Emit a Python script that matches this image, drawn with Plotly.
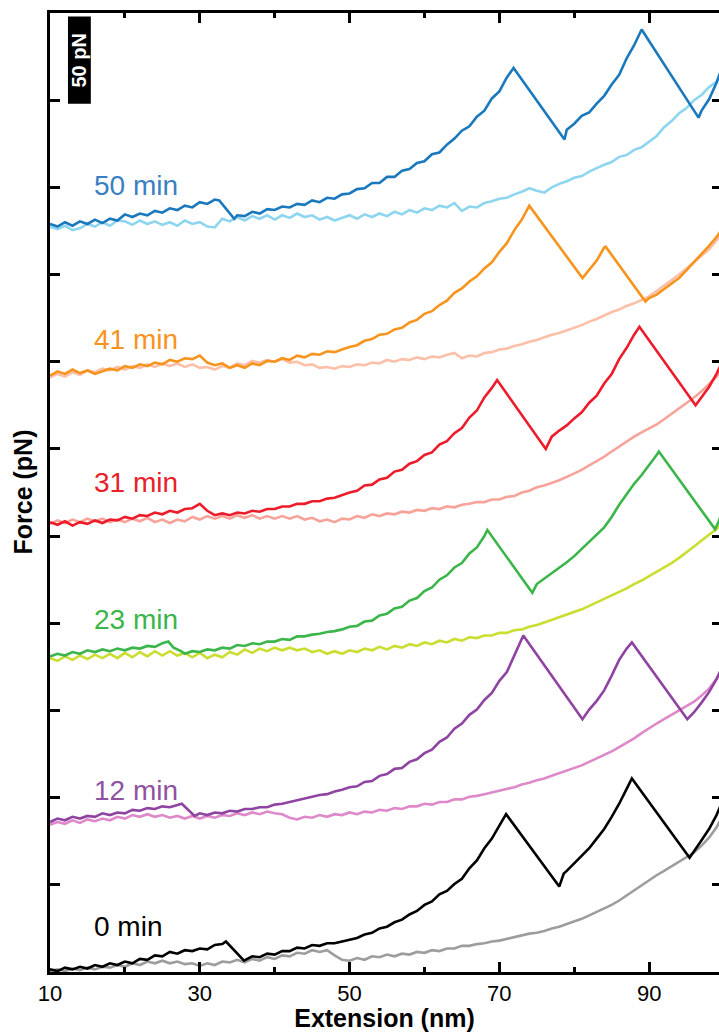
import plotly.graph_objects as go

# ---- data: (extension nm, force pN incl. vertical offset) ----
d50 = [(10, 429), (11, 427.5), (12, 430), (13, 428), (14, 430.5), (15, 429), (16, 431.5), (17, 429.5), (18, 432), (19, 431),
       (20, 434.5), (21, 433), (22, 435), (23, 434), (24, 436.5), (25, 435.5), (26, 438), (27, 437), (28, 439.5), (29, 438.5),
       (30, 441.5), (31, 440.5), (32, 443), (32.6, 442.5), (34.6, 432), (35, 434), (36, 433.5), (37, 436), (38, 435), (39, 437.5),
       (40, 437), (41, 439), (42, 438.5), (43, 440.5), (44, 440), (45, 442.5), (46, 441.5), (47, 444), (48, 443.5), (49, 446),
       (50, 446.5), (51, 449), (52, 449.5), (53, 452.5), (54, 452.5), (55, 456), (56, 456), (57, 459.5), (58, 460.5), (59, 464),
       (60, 465), (61, 469), (62, 470), (63, 474.5), (64, 478), (65, 482.5), (66, 485), (67, 490.5), (68, 494), (69, 501),
       (70, 505), (71, 513), (71.9, 518.5), (78.7, 477.5), (79, 483), (80, 486.5), (81, 491), (82, 493), (83, 498),
       (84, 502.5), (85, 509), (86, 514.5), (87, 524), (88, 531.5), (89, 540.5), (96.6, 490), (97, 494), (98, 500.5), (99, 510),
       (99.5, 516)]
l50 = [(10, 427.5), (11, 426), (12, 428), (13, 425.5), (14, 426.5), (15, 429), (16, 427.5), (17, 430), (18, 428), (19, 431),
       (20, 430.5), (21, 428.5), (22, 431), (23, 429), (24, 430.5), (25, 428.5), (26, 430), (27, 428), (28, 431), (29, 429),
       (30, 430), (31, 427.5), (32, 427), (33, 432), (34, 430.5), (35, 433), (36, 431), (37, 433.5), (38, 432), (39, 434),
       (40, 431.5), (41, 434), (42, 432.5), (43, 435), (44, 433), (45, 434), (46, 431.5), (47, 433), (48, 431), (49, 432.5),
       (50, 434), (51, 432), (52, 434.5), (53, 433), (54, 435), (55, 433.5), (56, 436), (57, 434.5), (58, 437), (59, 435.5),
       (60, 438), (61, 437), (62, 439.5), (63, 438.5), (64, 441), (65, 436.5), (66, 439), (67, 438.5), (68, 441), (69, 442),
       (70, 443.5), (71, 444), (72, 446), (73, 447.5), (74, 449.5), (75, 448), (76, 447), (77, 450), (78, 452), (79, 453.5),
       (80, 455.5), (81, 456.5), (82, 459), (83, 461), (84, 463), (85, 464.5), (86, 467.5), (87, 468.5), (88, 471.5), (89, 473),
       (90, 476.5), (91, 479.5), (92, 484.5), (93, 488), (94, 492.5), (95, 495.5), (96, 500), (97, 503), (98, 507.5), (99, 510.5),
       (99.5, 513.5)]

d41 = [(10, 342), (11, 344.5), (12, 343), (13, 345.5), (14, 343.5), (15, 345), (16, 343), (17, 344.5), (18, 346), (19, 345),
       (20, 347.5), (21, 346.5), (22, 348.5), (23, 347.5), (24, 349.5), (25, 348.5), (26, 351), (27, 350), (28, 352), (29, 351.5),
       (30, 353.5), (31, 349.5), (32, 348), (33, 349), (34, 346.5), (35, 348), (36, 346.5), (37, 349), (38, 348), (39, 350.5),
       (40, 350), (41, 352), (42, 351), (43, 353.5), (44, 352.5), (45, 354.5), (46, 354), (47, 356), (48, 355.5), (49, 357),
       (50, 358.5), (51, 359.5), (52, 362), (53, 363), (54, 365.5), (55, 366), (56, 368.5), (57, 369.5), (58, 372.5), (59, 374),
       (60, 377.5), (61, 379), (62, 382.5), (63, 385), (64, 389.5), (65, 392), (66, 396), (67, 399), (68, 403.5), (69, 407),
       (70, 413), (71, 418), (72, 425.5), (73, 431.5), (74, 439.5), (81.1, 398), (82, 402.5), (83, 408), (84, 415.5),
       (84.2, 416), (89.5, 384.5), (90, 386.5), (91, 388.5), (92, 391.5), (93, 394.5), (94, 398), (95, 402.5), (96, 407),
       (97, 412), (98, 416.5), (99, 421.5), (99.5, 424.5)]
l41 = [(10, 341), (11, 343), (12, 341.5), (13, 344), (14, 342.5), (15, 345), (16, 344), (17, 346), (18, 345), (19, 347),
       (20, 345.5), (21, 347.5), (22, 346.5), (23, 348.5), (24, 347), (25, 349), (26, 347.5), (27, 349), (28, 347), (29, 348.5),
       (30, 346.5), (31, 347), (32, 345.5), (33, 347.5), (34, 346.5), (35, 349), (36, 348), (37, 350.5), (38, 349.5), (39, 351),
       (40, 350), (41, 351.5), (42, 349.5), (43, 350), (44, 348), (45, 348.5), (46, 346.5), (47, 347), (48, 346), (49, 347.5),
       (50, 347), (51, 348.5), (52, 348), (53, 349.5), (54, 349), (55, 351), (56, 350), (57, 351.5), (58, 351), (59, 352.5),
       (60, 351.5), (61, 353), (62, 352.5), (63, 354), (64, 355), (65, 352), (66, 353.5), (67, 353), (68, 355), (69, 355.5),
       (70, 357), (71, 357.5), (72, 359), (73, 360), (74, 361.5), (75, 362.5), (76, 364), (77, 365.5), (78, 366.5), (79, 368),
       (80, 369.5), (81, 371), (82, 373), (83, 374.5), (84, 376.5), (85, 378.5), (86, 380), (87, 382), (88, 383.5), (89, 385.5),
       (90, 387.5), (91, 390.5), (92, 393.5), (93, 397), (94, 400), (95, 403.5), (96, 407), (97, 410.5), (98, 414.5),
       (99, 419.5), (99.5, 422.5)]

d31 = [(10, 258), (11, 256.5), (12, 258.5), (13, 256), (14, 258), (15, 257), (16, 259), (17, 257.5), (18, 259.5), (19, 259),
       (20, 261), (21, 260), (22, 262), (23, 261.5), (24, 263.5), (25, 262.5), (26, 264.5), (27, 263.5), (28, 265.5), (29, 266),
       (30, 268.5), (31, 264.5), (32, 262), (33, 263), (34, 262), (35, 263.5), (36, 263), (37, 264.5), (38, 264), (39, 265.5),
       (40, 265.5), (41, 267), (42, 267), (43, 268.5), (44, 268.5), (45, 270), (46, 270), (47, 271.5), (48, 272), (49, 273.5),
       (50, 275), (51, 276), (52, 279), (53, 279.5), (54, 282.5), (55, 283.5), (56, 287), (57, 288), (58, 291.5), (59, 293),
       (60, 296.5), (61, 298), (62, 302.5), (63, 304.5), (64, 309), (65, 312), (66, 318), (67, 322), (68, 329.5), (69, 335),
       (69.7, 339.5), (76.2, 300), (77, 307), (78, 310.5), (79, 313.5), (80, 317.5), (81, 321), (82, 326.5), (83, 330.5),
       (84, 337.5), (85, 343), (86, 351.5), (87, 358), (88, 365.5), (88.7, 370), (96.2, 325), (97, 329.5), (98, 335.5),
       (99, 343), (99.5, 347.5)]
l31 = [(10, 257), (11, 259), (12, 257.5), (13, 259.5), (14, 258), (15, 260), (16, 258.5), (17, 260), (18, 258), (19, 259.5),
       (20, 258), (21, 260), (22, 258.5), (23, 260.5), (24, 258), (25, 259.5), (26, 257.5), (27, 259.5), (28, 258.5), (29, 261),
       (30, 259.5), (31, 261.5), (32, 260), (33, 261.5), (34, 260), (35, 262), (36, 260.5), (37, 262), (38, 260), (39, 261.5),
       (40, 260), (41, 261.5), (42, 260), (43, 261.5), (44, 259.5), (45, 260.5), (46, 258.5), (47, 259.5), (48, 258), (49, 260),
       (50, 259.5), (51, 261.5), (52, 260.5), (53, 262.5), (54, 261.5), (55, 263), (56, 262.5), (57, 264), (58, 263.5), (59, 265),
       (60, 264.5), (61, 266), (62, 265.5), (63, 267), (64, 266.5), (65, 268), (66, 268.5), (67, 269.5), (68, 269.5), (69, 271),
       (70, 271), (71, 272.5), (72, 273), (73, 275), (74, 276), (75, 278), (76, 279), (77, 280.5), (78, 282), (79, 284),
       (80, 286), (81, 288), (82, 290.5), (83, 293), (84, 295.5), (85, 298.5), (86, 301.5), (87, 304), (88, 307), (89, 309.5),
       (90, 312), (91, 314), (92, 317), (93, 320), (94, 323), (95, 326), (96, 329.5), (97, 333), (98, 337), (99, 341.5),
       (99.5, 344.5)]

d23 = [(10, 181), (11, 182.5), (12, 181.5), (13, 183.5), (14, 182.5), (15, 184.5), (16, 183.5), (17, 185), (18, 184),
       (19, 185.5), (20, 184.5), (21, 186), (22, 185.5), (23, 187), (24, 186.5), (25, 188.5), (25.8, 189.5), (26.5, 186),
       (27.5, 184), (28, 182.5), (29, 184), (30, 183.5), (31, 185), (32, 184.5), (33, 186), (34, 185.5), (35, 187.5), (36, 187),
       (37, 188.5), (38, 188), (39, 189.5), (40, 189.5), (41, 191), (42, 190.5), (43, 192.5), (44, 192.5), (45, 193.5),
       (46, 194), (47, 195), (48, 195.5), (49, 196.5), (50, 198), (51, 198.5), (52, 201), (53, 201.5), (54, 204.5), (55, 205.5),
       (56, 208.5), (57, 209.5), (58, 213), (59, 214.5), (60, 218.5), (61, 220.5), (62, 225), (63, 227.5), (64, 232), (65, 234.5),
       (66, 240), (67, 243.5), (68, 250), (68.4, 253.5), (74.4, 217.5), (75, 222.5), (76, 225.5), (77, 228.5), (78, 231.5),
       (79, 235), (80, 238.5), (81, 242.5), (82, 246.5), (83, 250.5), (84, 255), (85, 261), (86, 268), (87, 274), (88, 280),
       (89, 285), (90, 290.5), (91, 296.5), (91.3, 298.5), (98.8, 254), (99.3, 258.5), (99.6, 262)]
l23 = [(10, 180), (11, 178.5), (12, 181), (13, 179), (14, 181.5), (15, 179.5), (16, 182), (17, 180), (18, 182.5), (19, 180),
       (20, 183), (21, 180.5), (22, 183.5), (23, 181), (24, 184), (25, 181.5), (26, 184), (27, 181.5), (28, 183), (29, 180.5),
       (30, 183), (31, 180), (32, 182), (33, 180.5), (34, 183.5), (35, 182), (36, 185), (37, 183), (38, 185.5), (39, 184),
       (40, 186), (41, 184.5), (42, 186), (43, 184.5), (44, 185.5), (45, 183.5), (46, 184.5), (47, 182.5), (48, 184),
       (49, 182.5), (50, 184.5), (51, 183.5), (52, 185.5), (53, 184.5), (54, 186.5), (55, 185), (56, 187), (57, 186), (58, 188),
       (59, 187), (60, 189), (61, 188), (62, 190), (63, 189), (64, 191), (65, 190), (66, 192), (67, 191.5), (68, 193), (69, 193),
       (70, 194.5), (71, 194.5), (72, 196), (73, 196.5), (74, 198), (75, 199), (76, 200.5), (77, 202), (78, 203.5), (79, 205),
       (80, 206.5), (81, 208), (82, 210), (83, 212), (84, 214), (85, 216), (86, 218), (87, 220), (88, 222.5), (89, 224.5),
       (90, 227), (91, 229.5), (92, 232), (93, 234.5), (94, 237.5), (95, 240.5), (96, 244), (97, 247.5), (98, 250.5), (99, 254),
       (99.5, 256.5)]

d12 = [(10, 86), (11, 88), (12, 87), (13, 89), (14, 88), (15, 89.5), (16, 89), (17, 91), (18, 90), (19, 91.5), (20, 91),
       (21, 93), (22, 92.5), (23, 94), (24, 93.5), (25, 95), (26, 94.5), (27, 96), (27.6, 96.5), (29.3, 89.5), (30, 91), (31, 90),
       (32, 91.5), (33, 91), (34, 92.5), (35, 92), (36, 93.5), (37, 93.5), (38, 94.5), (39, 94.5), (40, 96), (41, 96.5),
       (42, 97.5), (43, 98.5), (44, 99.5), (45, 100.5), (46, 101.5), (47, 102), (48, 103.5), (49, 104.5), (50, 106), (51, 106.5),
       (52, 109), (53, 109.5), (54, 112.5), (55, 113.5), (56, 116.5), (57, 117), (58, 120.5), (59, 122), (60, 125.5), (61, 127.5),
       (62, 132), (63, 134.5), (64, 139.5), (65, 142.5), (66, 147.5), (67, 150.5), (68, 156), (69, 160), (70, 167), (71, 172),
       (72, 181.5), (73.2, 193), (81.1, 145), (82, 150.5), (83, 155.5), (84, 161.5), (85, 170), (86, 179), (87, 185.5),
       (87.7, 189), (95.1, 145), (96, 149), (97, 154.5), (98, 160.5), (99, 168), (99.5, 172.5)]
l12 = [(10, 84.5), (11, 86), (12, 85), (13, 87), (14, 85.5), (15, 87.5), (16, 86.5), (17, 88), (18, 87), (19, 89), (20, 88),
       (21, 90), (22, 89), (23, 90.5), (24, 89), (25, 90), (26, 88.5), (27, 89.5), (28, 88), (29, 89.5), (30, 88), (31, 89.5),
       (32, 88.5), (33, 90), (34, 89.5), (35, 91), (36, 90), (37, 91.5), (38, 90.5), (39, 92), (40, 91), (41, 90.5), (42, 88.5),
       (43, 87.5), (44, 89), (45, 88.5), (46, 90), (47, 89), (48, 90.5), (49, 90), (50, 91.5), (51, 90.5), (52, 92), (53, 91.5),
       (54, 93), (55, 92.5), (56, 94), (57, 93.5), (58, 95), (59, 95), (60, 96.5), (61, 96), (62, 97.5), (63, 97.5), (64, 99),
       (65, 99), (66, 100.5), (67, 101), (68, 102), (69, 103), (70, 104), (71, 105), (72, 106), (73, 107.5), (74, 108.5),
       (75, 110), (76, 111), (77, 112.5), (78, 114), (79, 115.5), (80, 117), (81, 118.5), (82, 120.5), (83, 122.5), (84, 124.5),
       (85, 126.5), (86, 129), (87, 131.5), (88, 134), (89, 137), (90, 140), (91, 142.5), (92, 145), (93, 147.5), (94, 150),
       (95, 152.5), (96, 155), (97, 158.5), (98, 162.5), (99, 168), (99.5, 171.5)]

d0 = [(10, 1.5), (11, 0.5), (12, 2.5), (13, 1.5), (14, 3), (15, 2), (16, 4), (17, 3), (18, 5), (19, 4), (20, 6), (21, 5),
      (22, 7.5), (23, 7), (24, 9.5), (25, 9), (26, 11.5), (27, 10.5), (28, 12.5), (29, 12), (30, 13.5), (31, 13), (32, 15.5),
      (33, 16), (33.5, 17.5), (35.9, 6.5), (37, 9), (38, 8.5), (39, 10.5), (40, 10), (41, 12), (42, 12), (43, 14), (44, 13.5),
      (45, 15.5), (46, 15), (47, 16.5), (48, 16.5), (49, 17.5), (50, 18.5), (51, 19.5), (52, 21.5), (53, 22.5), (54, 25),
      (55, 26), (56, 28.5), (57, 30), (58, 33), (59, 35), (60, 38.5), (61, 40.5), (62, 44.5), (63, 46.5), (64, 50.5), (65, 53.5),
      (66, 59.5), (67, 64), (68, 71), (69, 76.5), (70, 84), (70.9, 90.5), (78, 49), (78.6, 56.5), (79, 58), (80, 62.5),
      (81, 66.5), (82, 71), (83, 76.5), (84, 82), (85, 89), (86, 96.5), (87, 105), (87.7, 111), (95.4, 65.5), (96, 69),
      (97, 75.5), (98, 82), (99, 90), (99.5, 95)]
l0 = [(10, 0.5), (11, 1.5), (12, 0.5), (13, 2), (14, 1), (15, 2.5), (16, 1.5), (17, 3), (18, 2.5), (19, 4), (20, 3), (21, 5),
      (22, 4), (23, 6), (24, 5), (25, 6.5), (26, 5), (27, 6), (28, 4.5), (29, 5), (30, 3.5), (31, 5), (32, 4), (33, 6),
      (34, 5.5), (35, 7), (36, 5.5), (37, 7.5), (38, 6.5), (39, 8.5), (40, 7.5), (41, 9.5), (42, 9), (43, 11), (44, 10.5),
      (45, 12.5), (46, 11.5), (47, 12.5), (48, 9.5), (49, 7), (50, 6.5), (51, 8), (52, 7), (53, 9), (54, 8.5), (55, 10), (56, 9),
      (57, 10.5), (58, 10), (59, 11.5), (60, 11), (61, 12.5), (62, 12), (63, 13.5), (64, 13.5), (65, 15), (66, 15), (67, 16),
      (68, 16.5), (69, 17.5), (70, 18), (71, 19), (72, 20), (73, 21), (74, 22), (75, 22.5), (76, 23.5), (77, 25), (78, 26),
      (79, 27.5), (80, 29), (81, 30.5), (82, 32.5), (83, 34.5), (84, 36.5), (85, 38.5), (86, 41), (87, 44), (88, 46.5),
      (89, 49.5), (90, 52.5), (91, 55.5), (92, 58), (93, 60.5), (94, 63), (95, 65.5), (96, 68.5), (97, 72.5), (98, 77), (99, 83),
      (99.5, 87)]

labels = ["50 min", "41 min", "31 min", "23 min", "12 min", "0 min"]
label_force = [451, 362.5, 280.5, 202, 104, 26]
x_ticks = [10, 30, 50, 70, 90]
x_minor = [20, 40, 60, 80]
y_ticks = [0, 50, 100, 150, 200, 250, 300, 350, 400, 450, 500, 550]
scale_bar_pN = 50

dark_colors = ["#1a78bd", "#f7941d", "#ec1c2a", "#3cb54a", "#8e44a0", "#000000"]
light_colors = ["#8ed6f0", "#fcbfa8", "#f7a39a", "#cbdd30", "#de89c9", "#9d9d9d"]
label_colors = ["#3a7fc1", "#f7931e", "#e8202a", "#3ab54a", "#8e52a1", "#000000"]

darks = [d50, d41, d31, d23, d12, d0]
lights = [l50, l41, l31, l23, l12, l0]

fig = go.Figure()
for data, col in zip(lights, light_colors):
    fig.add_trace(go.Scatter(x=[p[0] for p in data], y=[p[1] for p in data], mode="lines",
                             line=dict(color=col, width=2.6), showlegend=False, hoverinfo="skip"))
for data, col in zip(darks, dark_colors):
    fig.add_trace(go.Scatter(x=[p[0] for p in data], y=[p[1] for p in data], mode="lines",
                             line=dict(color=col, width=2.6), showlegend=False, hoverinfo="skip"))

FONT = "Liberation Sans, Arial, sans-serif"

for txt, yv, col in zip(labels, label_force, label_colors):
    fig.add_annotation(x=15.6, y=yv, xref="x", yref="y", text=txt, showarrow=False,
                       xanchor="left", yanchor="middle", font=dict(family=FONT, size=28, color=col))

# scale bar
fig.add_shape(type="rect", xref="x", yref="y", x0=12.4, x1=15.45, y0=548 - scale_bar_pN, y1=548,
              fillcolor="black", line=dict(width=0))
fig.add_annotation(x=13.93, y=548 - scale_bar_pN / 2, xref="x", yref="y", text="<b>%d pN</b>" % scale_bar_pN,
                   textangle=-90, showarrow=False, font=dict(family=FONT, size=20, color="white"))

# y title
fig.add_annotation(x=0, y=0.5, xref="paper", yref="paper", text="<b>Force (pN)</b>", textangle=-90,
                   showarrow=False, xanchor="center", yanchor="middle", xshift=-28,
                   font=dict(family=FONT, size=25, color="black"))

fig.update_layout(
    width=719, height=1032,
    margin=dict(l=50, r=0, t=13, b=60),
    paper_bgcolor="white", plot_bgcolor="white",
    showlegend=False,
    xaxis=dict(range=[10, 99.33], tickvals=x_ticks, ticks="inside", ticklen=10, tickwidth=2.5,
               tickcolor="black", showline=True, linewidth=2.5, linecolor="black", mirror="ticks",
               showgrid=False, zeroline=False,
               tickfont=dict(family=FONT, size=22, color="black"),
               minor=dict(tickvals=x_minor, ticks="inside", ticklen=5, tickwidth=2.5, tickcolor="black",
                          showgrid=False),
               title=dict(text="<b>Extension (nm)</b>", font=dict(family=FONT, size=25, color="black"),
                          standoff=6)),
    yaxis=dict(range=[0, 550], tickvals=y_ticks, ticks="inside", ticklen=10, tickwidth=2.5,
               tickcolor="black", showline=True, linewidth=2.5, linecolor="black", mirror=False,
               showticklabels=False, showgrid=False, zeroline=False),
    yaxis2=dict(range=[0, 550], tickvals=y_ticks, ticks="inside", ticklen=7, tickwidth=2.5,
                tickcolor="black", showline=False, overlaying="y", side="right",
                showticklabels=False, showgrid=False, zeroline=False),
)
fig.add_trace(go.Scatter(x=[None], y=[None], yaxis="y2", showlegend=False, hoverinfo="skip"))

fig.write_html("out.html", config={"displayModeBar": False},
               post_script="document.body.style.margin='0px';document.body.style.overflow='hidden';")
